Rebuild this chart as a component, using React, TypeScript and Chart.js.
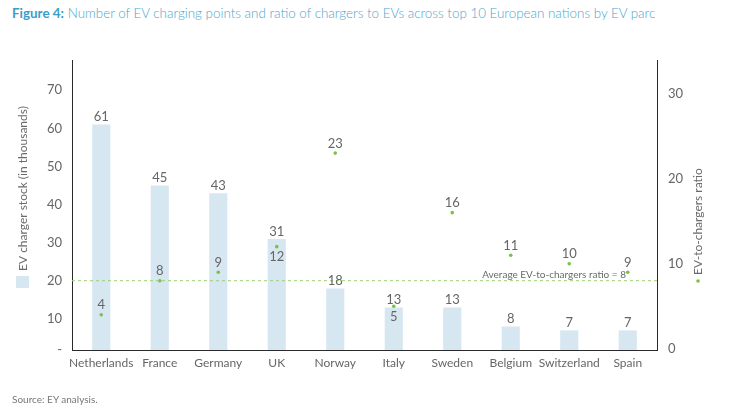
import React, { useEffect, useRef } from "react";
import { Chart, registerables } from "chart.js";

Chart.register(...registerables);

const countries = ["Netherlands", "France", "Germany", "UK", "Norway", "Italy", "Sweden", "Belgium", "Switzerland", "Spain"];
const chargerStock = [61, 45, 43, 31, 18, 13, 13, 8, 7, 7];
const evToChargerRatio = [4, 8, 9, 12, 23, 5, 16, 11, 10, 9];
const averageRatio = 8;
const leftTicks = [0, 10, 20, 30, 40, 50, 60, 70];
const rightTicks = [0, 10, 20, 30];

const FONT = "Lato, 'Noto Sans', sans-serif";
const BAR_COLOR = "#d7e7f1";
const POINT_COLOR = "#7cc242";
const TEXT_COLOR = "#666666";
const LEFT_MIN = 1.84;
const LEFT_MAX = 77.95;

const overlayPlugin = {
  id: "overlay",
  afterDatasetsDraw(chart: any) {
    const { ctx, chartArea, scales } = chart;
    const barMeta = chart.getDatasetMeta(1);
    const ptMeta = chart.getDatasetMeta(0);
    ctx.save();
    // average line
    const yAvg = scales.y1.getPixelForValue(averageRatio);
    ctx.strokeStyle = "#9bd07a";
    ctx.lineWidth = 1;
    ctx.setLineDash([3, 3]);
    ctx.beginPath();
    ctx.moveTo(chartArea.left, yAvg);
    ctx.lineTo(chartArea.right, yAvg);
    ctx.stroke();
    ctx.setLineDash([]);
    ctx.fillStyle = "#6a6a6a";
    ctx.font = `10px ${FONT}`;
    ctx.textAlign = "right";
    ctx.textBaseline = "bottom";
    ctx.fillText(`Average EV-to-chargers ratio = ${averageRatio}`, chartArea.right - 31, yAvg - 1);

    // labels
    ctx.font = `13px ${FONT}`;
    ctx.fillStyle = TEXT_COLOR;
    ctx.textAlign = "center";
    chargerStock.forEach((v, i) => {
      const bar = barMeta.data[i];
      ctx.textBaseline = "bottom";
      ctx.fillText(String(v), bar.x, bar.y - 1);
    });
    evToChargerRatio.forEach((v, i) => {
      const pt = ptMeta.data[i];
      const bar = barMeta.data[i];
      const below = Math.abs(pt.y - bar.y) < 22;
      if (below) {
        ctx.textBaseline = "top";
        ctx.fillText(String(v), pt.x, pt.y + 4);
      } else {
        ctx.textBaseline = "bottom";
        ctx.fillText(String(v), pt.x, pt.y - 3);
      }
    });

    // side legends / titles
    ctx.font = `12px ${FONT}`;
    ctx.textAlign = "left";
    ctx.textBaseline = "middle";
    ctx.fillStyle = BAR_COLOR;
    ctx.fillRect(16, 276, 13, 12);
    ctx.save();
    ctx.translate(23, 271);
    ctx.rotate(-Math.PI / 2);
    ctx.fillStyle = "#6a6a6a";
    ctx.fillText("EV charger stock (in thousands)", 0, 0);
    ctx.restore();

    ctx.fillStyle = POINT_COLOR;
    ctx.beginPath();
    ctx.arc(698, 281, 1.8, 0, Math.PI * 2);
    ctx.fill();
    ctx.save();
    ctx.translate(698, 275);
    ctx.rotate(-Math.PI / 2);
    ctx.fillStyle = "#6a6a6a";
    ctx.fillText("EV-to-chargers ratio", 0, 0);
    ctx.restore();
    ctx.restore();
  },
};

export default function App() {
  const ref = useRef<HTMLCanvasElement>(null);
  useEffect(() => {
    if (!ref.current) return;
    const chart = new Chart(ref.current, {
      type: "bar",
      data: {
        labels: countries,
        datasets: [
          {
            type: "line",
            label: "EV-to-chargers ratio",
            data: evToChargerRatio,
            yAxisID: "y1",
            showLine: false,
            pointRadius: 1.8,
            pointBackgroundColor: POINT_COLOR,
            pointBorderWidth: 0,
            order: 0,
          } as any,
          {
            type: "bar",
            label: "EV charger stock (in thousands)",
            data: chargerStock,
            yAxisID: "y",
            backgroundColor: BAR_COLOR,
            barPercentage: 0.31,
            categoryPercentage: 1,
            order: 1,
          },
        ],
      },
      options: {
        responsive: false,
        animation: false,
        layout: { padding: { top: 60, left: 0, right: 0, bottom: 0 } },
        plugins: { legend: { display: false }, tooltip: { enabled: false } },
        scales: {
          x: {
            grid: { display: false, drawTicks: false },
            border: { display: true, color: "#2a2a2a", width: 1 },
            ticks: { padding: 6, color: TEXT_COLOR, font: { family: FONT, size: 12 }, maxRotation: 0, autoSkip: false },
            afterFit: (s: any) => { s.height = 56; },
          },
          y: {
            position: "left",
            min: LEFT_MIN,
            max: LEFT_MAX,
            grid: { display: false, drawTicks: false },
            border: { display: true, color: "#2a2a2a", width: 1 },
            ticks: {
              padding: 10,
              color: TEXT_COLOR,
              font: { family: FONT, size: 13 },
              callback: (v: any, i: number) => (i === 0 ? "-" : String(v)),
            },
            afterBuildTicks: (s: any) => {
              s.ticks = leftTicks.map((v) => ({ value: v === 0 ? LEFT_MIN : v }));
            },
            afterFit: (s: any) => { s.width = 72; },
          },
          y1: {
            position: "right",
            min: -0.15,
            max: 33.95,
            grid: { display: false, drawTicks: false },
            border: { display: true, color: "#2a2a2a", width: 1 },
            ticks: { padding: 11, color: TEXT_COLOR, font: { family: FONT, size: 13 } },
            afterBuildTicks: (s: any) => { s.ticks = rightTicks.map((v) => ({ value: v })); },
            afterFit: (s: any) => { s.width = 75; },
          },
        },
      },
      plugins: [overlayPlugin],
    });
    return () => chart.destroy();
  }, []);

  return (
    <div style={{ position: "absolute", left: 0, top: 0, width: 732, height: 406, background: "#fff", overflow: "hidden", fontFamily: FONT }}>
      <div style={{ position: "absolute", left: 12, top: 5, fontSize: 13.4, color: "#4aa6cf", whiteSpace: "nowrap", fontWeight: 300 }}>
        <span style={{ fontWeight: 700, color: "#3a9dc8" }}>Figure 4:</span>
        <span> Number of EV charging points and ratio of chargers to EVs across top 10 European nations by EV parc</span>
      </div>
      <canvas ref={ref} width={732} height={406} style={{ position: "absolute", left: 0, top: 0, width: 732, height: 406 }} />
      <div style={{ position: "absolute", left: 12, top: 393, fontSize: 10, color: "#777", whiteSpace: "nowrap" }}>
        Source: EY analysis.
      </div>
    </div>
  );
}
